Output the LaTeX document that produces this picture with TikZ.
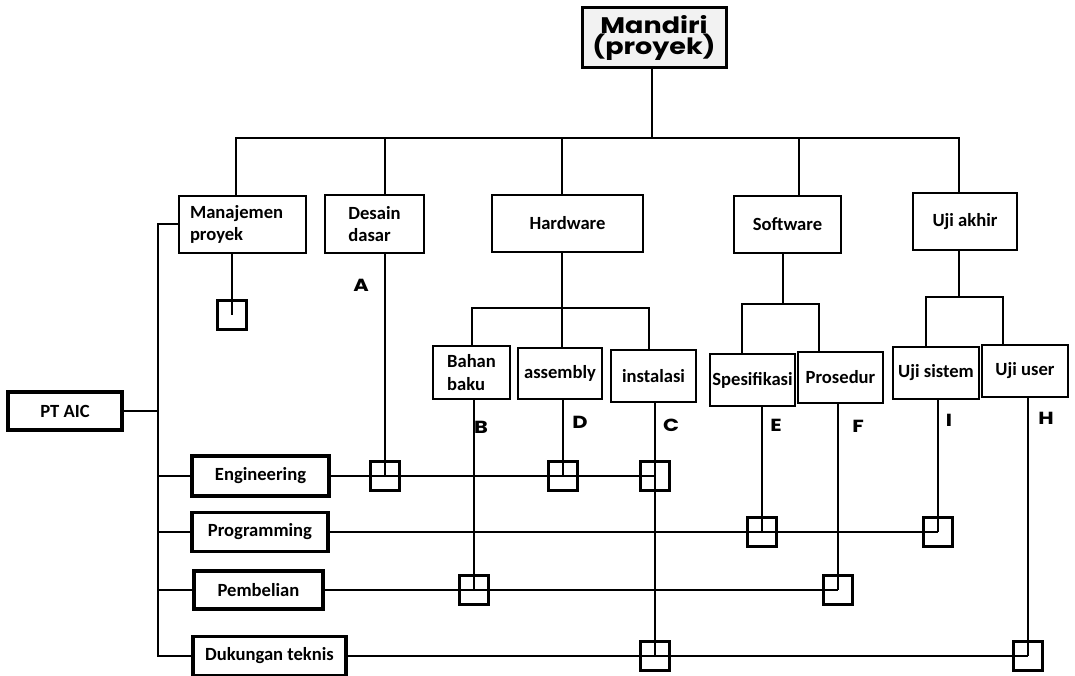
\documentclass[tikz,border=0pt]{standalone}
\usepackage{fontspec}
\setmainfont{Carlito}
\newfontfamily\geofont{Poppins}[FakeStretch=1.2]
\usetikzlibrary{positioning,calc}

\tikzset{
  box/.style={draw=black,line width=2.1pt,fill=white,inner sep=0pt,align=center,
              font=\fontsize{18.6}{22.6}\selectfont\bfseries},
  unitbox/.style={box,line width=3.4pt},
  wire/.style={draw=black,line width=2pt},
  sq/.style={draw=black,line width=2.1pt,minimum size=29pt,inner sep=0pt},
  tag/.style={font=\geofont\fontsize{17.5}{17.5}\selectfont\bfseries,inner sep=0pt}
}

\begin{document}
\begin{tikzpicture}[x=1pt,y=-1pt]
  \useasboundingbox (0,0) rectangle (1075,676);

  % project root
  \node[box,line width=3pt,fill=black!5,
        font=\geofont\fontsize{22.5}{21}\selectfont\bfseries,
        minimum width=144pt,minimum height=60pt] (mandiri) at (654,38)
    {Mandiri\\(proyek)};

  % work packages
  \node[box,align=left,text width=105pt,minimum width=127pt,minimum height=57pt]
    (manaj) at (242.5,224.5) {Manajemen\\proyek};
  \node[box,align=left,minimum width=99pt,minimum height=58pt] (desain)
    at (374.5,224) {Desain\\dasar};
  \node[box,minimum width=151pt,minimum height=57pt] (hardware)
    at (567.5,223.5) {Hardware};
  \node[box,minimum width=107pt,minimum height=57pt] (software)
    at (787.5,224.5) {Software};
  \node[box,minimum width=104pt,minimum height=57pt] (ujiakhir)
    at (965,221.5) {Uji akhir};

  \node[box,align=left,minimum width=77pt,minimum height=53pt] (bahan)
    at (471.5,372.5) {Bahan\\baku};
  \node[box,minimum width=84pt,minimum height=51pt] (assembly)
    at (560,373.5) {assembly};
  \node[box,minimum width=85pt,minimum height=52pt] (instalasi)
    at (653.5,376) {instalasi};
  \node[box,minimum width=85pt,minimum height=52pt] (spesifikasi)
    at (752.5,380) {Spesifikasi};
  \node[box,minimum width=85pt,minimum height=51pt] (prosedur)
    at (840.5,377.5) {Prosedur};
  \node[box,minimum width=86pt,minimum height=52pt] (ujisistem)
    at (936,373) {Uji sistem};
  \node[box,minimum width=86pt,minimum height=52pt] (ujiuser)
    at (1025,371) {Uji user};

  % organisation units
  \node[unitbox,minimum width=114pt,minimum height=38pt] (ptaic)
    at (65,411) {PT AIC};
  \node[unitbox,minimum width=137pt,minimum height=40pt] (engineering)
    at (260.5,476) {Engineering};
  \node[unitbox,minimum width=136pt,minimum height=39pt] (programming)
    at (260,532) {Programming};
  \node[unitbox,minimum width=129pt,minimum height=38pt] (pembelian)
    at (258.5,590) {Pembelian};
  \node[unitbox,minimum width=153pt,minimum height=39pt] (dukungan)
    at (269.5,656) {Dukungan teknis};

  % bus points
  \coordinate (top) at (652,138);
  \coordinate (hwbus) at (562,308);
  \coordinate (swbus) at (783,304);
  \coordinate (ujbus) at (959,297);
  \coordinate (trunk) at (158,656);

  % responsibility squares
  \node[sq] (sqM) at (232,315) {};
  \node[sq] (sqA) at (385,476) {};
  \node[sq] (sqD) at (563,476) {};
  \node[sq] (sqC1) at (655,476) {};
  \node[sq] (sqE) at (762,532) {};
  \node[sq] (sqI) at (938,532) {};
  \node[sq] (sqB) at (474,590) {};
  \node[sq] (sqF) at (838,590) {};
  \node[sq] (sqC2) at (655,656) {};
  \node[sq] (sqH) at (1028,656) {};

  % first level
  \draw[wire] (mandiri.south -| top) -- (top);
  \draw[wire] ([xshift=-6.5pt]manaj.north) |- (top);
  \draw[wire] (desain.north -| sqA) |- (top);
  \draw[wire] (hardware.north -| hwbus) |- (top);
  \draw[wire] ([xshift=11.5pt]software.north) |- (top);
  \draw[wire] (ujiakhir.north -| ujbus) |- (top);

  % hardware
  \draw[wire] (hardware.south -| hwbus) -- (assembly.north -| hwbus);
  \draw[wire] (bahan.north) |- (hwbus) -| ([xshift=-4.5pt]instalasi.north);

  % software
  \draw[wire] (software.south -| swbus) -- (swbus);
  \draw[wire] ([xshift=-10.5pt]spesifikasi.north) |- (swbus)
    -| ([xshift=-21.5pt]prosedur.north);

  % uji akhir
  \draw[wire] (ujiakhir.south -| ujbus) -- (ujbus);
  \draw[wire] ([xshift=-10pt]ujisistem.north) |- (ujbus)
    -| ([xshift=-22pt]ujiuser.north);

  % down to the squares
  \draw[wire] (manaj.south -| sqM) -- (sqM.center);
  \draw[wire] (desain.south -| sqA) -- (sqA.center);
  \draw[wire] (bahan.south -| sqB) -- (sqB.center);
  \draw[wire] (assembly.south -| sqD) -- (sqD.center);
  \draw[wire] (instalasi.south -| sqC2) -- (sqC2.center);
  \draw[wire] (spesifikasi.south -| sqE) -- (sqE.center);
  \draw[wire] (prosedur.south -| sqF) -- (sqF.center);
  \draw[wire] (ujisistem.south -| sqI) -- (sqI.center);
  \draw[wire] (ujiuser.south -| sqH) -- (sqH.center);

  % PT AIC trunk
  \draw[wire] (manaj.west) -| (trunk) -- (dukungan.west);
  \draw[wire] (ptaic.east) -- (ptaic.east -| trunk);
  \foreach \u in {engineering,programming,pembelian}
    \draw[wire] (\u.west) -- (\u.west -| trunk);

  % unit rows
  \draw[wire] (engineering.east) -- (sqC1.center);
  \draw[wire] (programming.east) -- (sqI.center);
  \draw[wire] (pembelian.east) -- (sqF.center);
  \draw[wire] (dukungan.east) -- (sqH.center);

  % letters
  \node[tag] (tA) at (361,285) {A};
  \node[tag] (tB) at (481,427) {B};
  \node[tag] (tD) at (580,422) {D};
  \node[tag] (tC) at (671,425) {C};
  \node[tag] (tE) at (776,425) {E};
  \node[tag] (tF) at (858,426) {F};
  \node[tag] (tI) at (949,420) {I};
  \node[tag] (tH) at (1046,418) {H};
\end{tikzpicture}
\end{document}
